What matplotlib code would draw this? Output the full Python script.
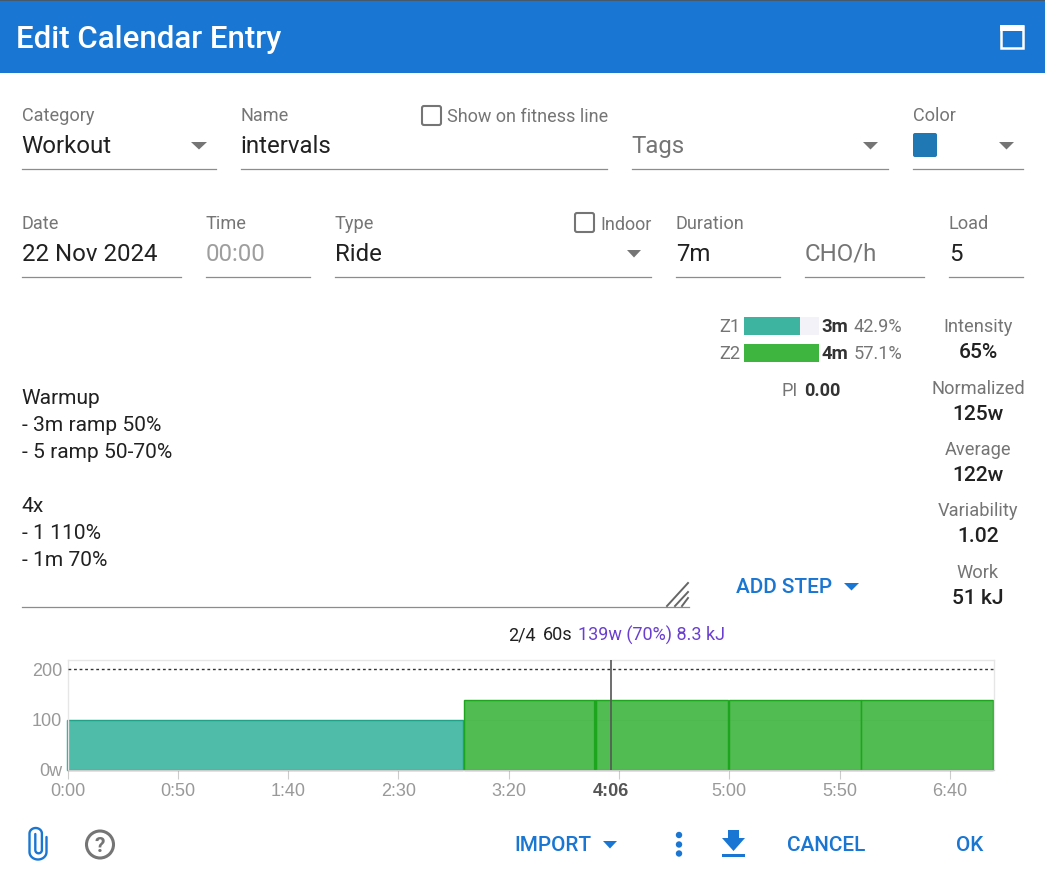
import numpy as np
import matplotlib
matplotlib.use("Agg")
import matplotlib.pyplot as plt
from matplotlib.colors import to_rgba
from matplotlib.patches import Rectangle, FancyBboxPatch, Polygon, Circle

# workout steps
step_secs = [180, 60, 60, 60, 60]
step_watts = [100, 139, 139, 139, 139]
step_colors = ["#3cb4a0", "#3db53f", "#3db53f", "#3db53f", "#3db53f"]
step_edges = ["#1fa287", "#1ea51e", "#1ea51e", "#1ea51e", "#1ea51e"]
tick_secs = [0, 50, 100, 150, 200, 250, 300, 350, 400]
tick_names = ["0:00", "0:50", "1:40", "2:30", "3:20", "", "5:00", "5:50", "6:40"]
ftp_line = 200
cursor_sec = 246

# zones
zone_names = ["Z1", "Z2"]
zone_pct = [42.9, 57.1]
zone_times = ["3m", "4m"]
zone_colors = ["#3cb4a0", "#3db53f"]

stat_names = ["Intensity", "Normalized", "Average", "Variability", "Work"]
stat_values = ["65%", "125w", "122w", "1.02", "51 kJ"]
workout_lines = ["Warmup", "- 3m ramp 50%", "- 5 ramp 50-70%", "", "4x", "- 1 110%", "- 1m 70%"]

BLUE = "#1976d2"
GRAY = "#757575"
DARK = "#212121"

plt.rcParams["font.family"] = ["Roboto", "DejaVu Sans"]
W, H = 1045, 882
fig = plt.figure(figsize=(W / 100, H / 100), dpi=100, facecolor="white")


def px_axes(x0, y0, x1, y1):
    # axes placed by pixel box, y counted from the top
    return fig.add_axes([x0 / W, 1 - y1 / H, (x1 - x0) / W, (y1 - y0) / H])


ui = px_axes(0, 0, W, H)
ui.set_xlim(0, W)
ui.set_ylim(H, 0)
ui.axis("off")


def txt(x, y, s, px=18, color=DARK, weight="normal", ha="left"):
    if ha == "left":
        x -= 0.3
    ui.text(x, y, s, fontsize=px * 0.72, color=color, fontweight=weight, ha=ha, va="baseline")


def tri(x0, x1, y0, y1, color=GRAY):
    ui.add_patch(Polygon([(x0, y0), (x1, y0), ((x0 + x1) / 2, y1)], closed=True, fc=color, ec="none"))


def checkbox(x0, y0, size):
    ui.add_patch(FancyBboxPatch((x0, y0), size, size, boxstyle="round,pad=0,rounding_size=2",
                                fc="white", ec=GRAY, lw=1.5))


# header
ui.add_patch(Rectangle((0, 0), W, 73, fc=BLUE, ec="none"))
ui.add_patch(Rectangle((0, 0), W, 1.2, fc="#46596b", ec="none"))
txt(16.7, 48, "Edit Calendar Entry", 31.3, "white", "medium")
ui.add_patch(Rectangle((1001.2, 26.2), 21.6, 21.6, fc="none", ec="white", lw=1.8))
ui.add_patch(Rectangle((1000, 25), 24, 6, fc="white", ec="none"))

# form rows
for a, b in [(22, 217), (241, 608), (632, 889), (913, 1024)]:
    ui.plot([a, b - 0.7], [169, 169], color="#8c8c8c", lw=0.9)
for a, b in [(22, 182), (206, 311), (335, 652), (676, 781), (805, 925), (949, 1024)]:
    ui.plot([a, b - 0.7], [277, 277], color="#8c8c8c", lw=0.9)

for x, s in [(22, "Category"), (241, "Name"), (913, "Color")]:
    txt(x, 121, s, 18.2, GRAY)
for x, s in [(22, "Date"), (206, "Time"), (335, "Type"), (676, "Duration"), (949, "Load")]:
    txt(x, 229, s, 18.2, GRAY)
txt(22, 153, "Workout", 24)
txt(241, 153, "intervals", 24)
txt(632, 153, "Tags", 24, GRAY)
txt(22, 261, "22 Nov 2024", 24)
txt(206, 261, "00:00", 24, "#9e9e9e")
txt(335, 261, "Ride", 24)
txt(676, 261, "7m", 24)
txt(805, 261, "CHO/h", 24, GRAY)
txt(949, 261, "5", 24)
checkbox(422, 106, 19)
txt(447, 122, "Show on fitness line", 18, GRAY)
checkbox(575, 213, 19)
txt(601, 230, "Indoor", 18, GRAY)
for x0, x1, y0 in [(191, 207, 142), (863, 878, 142), (999, 1014, 142), (627, 641, 250)]:
    tri(x0, x1, y0, y0 + 7.5)
ui.add_patch(FancyBboxPatch((913, 133), 24, 24, boxstyle="round,pad=0,rounding_size=2", fc="#1f77b4", ec="none"))

# workout text
for i, s in enumerate(workout_lines):
    txt(22, 404 + i * 27, s, 21)
ui.plot([22, 689], [607, 607], color="#8c8c8c", lw=0.9)
for x0, y1 in [(667, 583), (675, 592), (682, 598)]:
    ui.plot([x0, 688], [606, y1], color="#666666", lw=1.4)

# zone bars
zones = px_axes(744, 317, 819, 362)
zone_y = np.arange(len(zone_names))
zones.barh(zone_y, [max(zone_pct)] * len(zone_y), height=18 / 27, color="#f2f2f8")
zones.barh(zone_y, zone_pct, height=18 / 27, color=zone_colors)
zones.set_xlim(0, max(zone_pct))
zones.set_ylim(1 + 9 / 27, -9 / 27)
zones.axis("off")
for i in range(len(zone_names)):
    yb = 332 + i * 27
    txt(720, yb, zone_names[i], 18.2, GRAY)
    txt(822, yb, zone_times[i], 18.5, "#333333", "bold")
    txt(902, yb, f"{zone_pct[i]}%", 18.2, GRAY, ha="right")
txt(782, 396, "PI", 18.2, GRAY)
txt(804, 396, "0.00", 18.2, "#333333", "bold")

# stats column
for i in range(len(stat_names)):
    txt(978, 332 + i * 61.5, stat_names[i], 18.3, GRAY, ha="center")
    txt(978, 358 + i * 61.5, stat_values[i], 21, DARK, "medium", ha="center")

txt(736, 593, "ADD STEP", 20.8, BLUE, "medium")
tri(844, 859, 583, 590.5, BLUE)

# hover readout
txt(508.5, 640.5, "2/4", 18)
txt(543, 640.5, "60s", 18)
txt(578, 640.5, "139w (70%) 8.3 kJ", 18, "#6a3fd0")

# bottom buttons
txt(515, 851, "IMPORT", 20.8, BLUE, "medium")
tri(603, 617, 841, 848.5, BLUE)
for y in [835, 844.5, 853.5]:
    ui.add_patch(Circle((679, y), 3.2, fc=BLUE, ec="none"))
ui.add_patch(Polygon([(728, 830), (739, 830), (739, 838), (745, 838), (733.5, 851), (722, 838), (728, 838)],
                     closed=True, fc=BLUE, ec="none"))
ui.add_patch(Rectangle((722, 854), 23, 3, fc=BLUE, ec="none"))
txt(787, 851, "CANCEL", 20.8, BLUE, "medium")
txt(956.5, 851, "OK", 20.8, BLUE, "medium")

# paperclip, one stroke from the outer right leg to the inner left leg
arc = np.linspace(0, np.pi, 24)
clip_x = np.r_[46.5, 38 + 8.5 * np.cos(arc), 35.7 - 6.2 * np.cos(arc), 38.6 + 3.3 * np.cos(arc), 35.3]
clip_y = np.r_[837, 852 + 7.5 * np.sin(arc), 833.5 - 5.5 * np.sin(arc), 850 + 3.3 * np.sin(arc), 834]
ui.plot(clip_x, clip_y, color=BLUE, lw=1.7, solid_joinstyle="round", solid_capstyle="round")

# help icon
ui.add_patch(Circle((100, 844.5), 13.5, fc="none", ec=GRAY, lw=2.2))
txt(100, 852, "?", 21, GRAY, "bold", ha="center")

# power chart
ax = px_axes(67.5, 660, 994, 770)
starts = np.r_[0, np.cumsum(step_secs)[:-1]]
ax.set_xlim(0, 420)
ax.set_ylim(0, 218)
ax.set_axisbelow(True)
for s in ["top", "left", "right"]:
    ax.spines[s].set_color("#e6e6e6")
    ax.spines[s].set_linewidth(1)
ax.spines["bottom"].set_color("#cccccc")
ax.spines["bottom"].set_linewidth(0.8)
ax.axhline(100, color="#e0e0e0", lw=0.8, zorder=1)
# small gap between blocks so both edges show
ax.bar(starts - 0.3, step_watts, width=np.array(step_secs) - 0.2, align="edge",
       color=[to_rgba(c, 0.9) for c in step_colors], edgecolor=step_edges, lw=1.0, zorder=2, clip_on=False)
ax.vlines(starts[2] - 0.7, 0, step_watts[2], color=step_edges[2], lw=1.6, zorder=3)
ax.axhline(ftp_line, color="#333333", lw=1, ls=(0, (2, 2)), zorder=3)
ax.axvline(cursor_sec + 0.4, color="#555555", lw=1.2, zorder=4)
ax.set_xticks(tick_secs, tick_names)
ax.set_yticks([0, 100, 200], ["0w", "100", "200"])
ax.tick_params(axis="x", length=6.5, width=0.8, color="#cccccc", labelcolor="#999999", labelsize=18 * 0.72, pad=3)
ax.tick_params(axis="y", length=0, labelcolor="#999999", labelsize=18 * 0.72, pad=4)
for lab in ax.get_xticklabels() + ax.get_yticklabels():
    lab.set_fontfamily("Liberation Sans")
m, s = divmod(cursor_sec, 60)
ax.annotate(f"{m}:{s:02d}", (cursor_sec + 0.4, 0), xytext=(0, -26), textcoords="offset pixels", ha="center", va="baseline",
            fontsize=18 * 0.72, fontweight="bold", color="#555555", family="Liberation Sans")

fig.savefig("out.png", dpi=100)
